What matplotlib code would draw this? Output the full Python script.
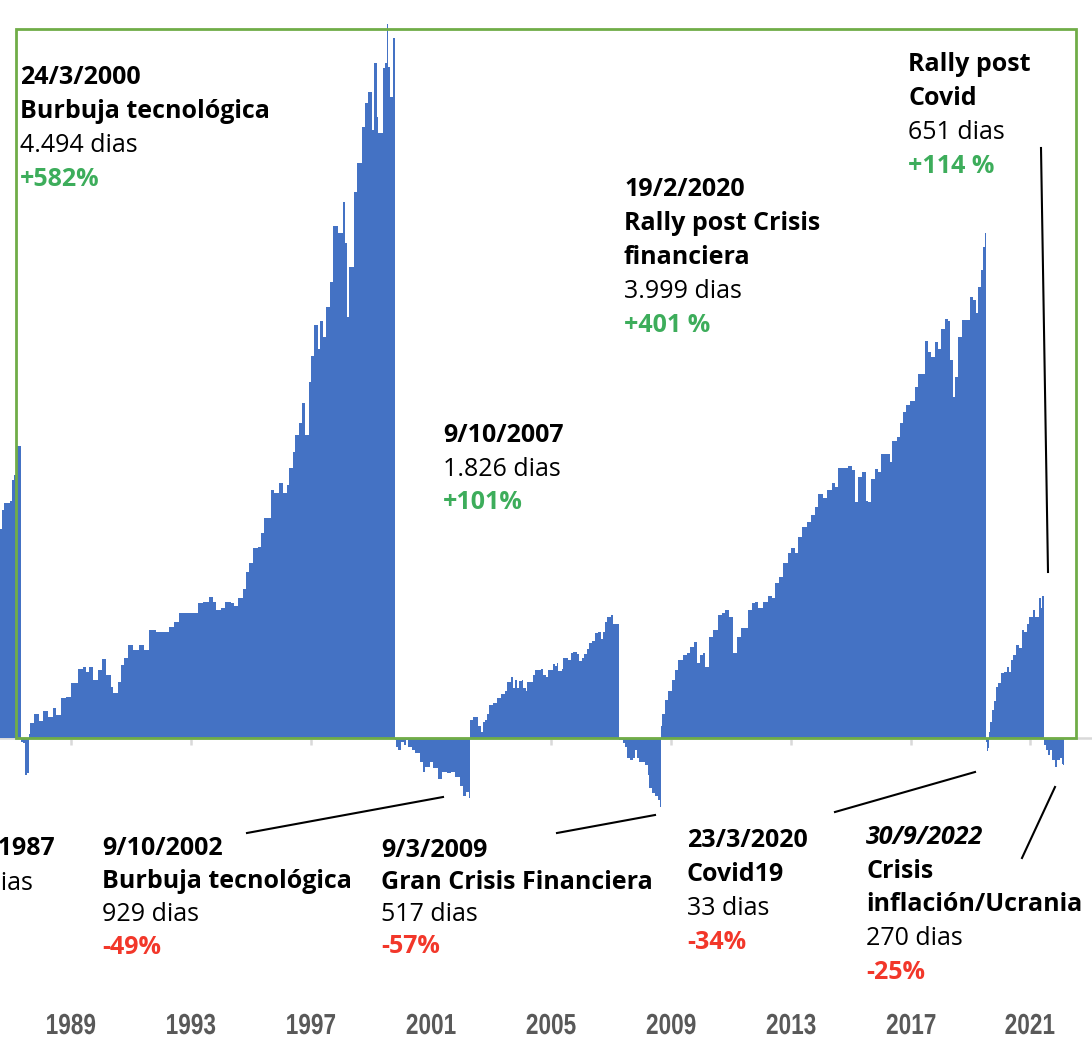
import numpy as np
import matplotlib.pyplot as plt
from matplotlib.patches import Rectangle, PathPatch
from matplotlib.lines import Line2D
from matplotlib.textpath import TextPath
from matplotlib.font_manager import FontProperties
from matplotlib.transforms import Affine2D

# fases del mercado: (fecha decimal, rentabilidad acumulada % desde el inicio de la fase)
alcista_82 = [(1986.95, 172), (1987.01, 187), (1987.08, 193), (1987.18, 193), (1987.28, 195),
              (1987.35, 212), (1987.42, 216), (1987.48, 235), (1987.52, 240), (1987.65, 240)]
bajista_87 = [(1987.65, -3), (1987.72, -4), (1987.79, -30), (1987.85, -29), (1987.92, -33)]
alcista_87 = [(1987.92, 3), (1987.97, 12), (1988.09, 20), (1988.26, 14), (1988.39, 22), (1988.56, 17),
              (1988.73, 25), (1988.83, 19), (1989.00, 33), (1989.17, 34), (1989.34, 45), (1989.57, 57),
              (1989.74, 58), (1989.84, 54), (1989.94, 58), (1990.08, 48), (1990.25, 56), (1990.38, 65),
              (1990.52, 52), (1990.68, 42), (1990.75, 37), (1990.92, 46), (1991.02, 60), (1991.12, 66),
              (1991.26, 76), (1991.42, 72), (1991.63, 76), (1991.79, 72), (1991.96, 89), (1992.20, 87),
              (1992.43, 87), (1992.64, 91), (1992.80, 95), (1992.97, 103), (1993.21, 103), (1993.44, 103),
              (1993.61, 111), (1993.78, 112), (1993.98, 116), (1994.12, 112), (1994.22, 105), (1994.39, 107),
              (1994.52, 112), (1994.72, 111), (1994.82, 108), (1994.96, 115), (1995.13, 122), (1995.23, 136),
              (1995.33, 144), (1995.46, 156), (1995.63, 157), (1995.73, 168), (1995.84, 181), (1996.00, 181),
              (1996.07, 204), (1996.17, 201), (1996.34, 209), (1996.47, 201), (1996.61, 208), (1996.68, 222),
              (1996.81, 235), (1996.88, 249), (1997.01, 259), (1997.11, 275), (1997.22, 249), (1997.35, 292),
              (1997.42, 314), (1997.52, 339), (1997.65, 319), (1997.72, 342), (1997.82, 329), (1997.92, 354),
              (1998.06, 374), (1998.16, 420), (1998.33, 415), (1998.50, 440), (1998.56, 406), (1998.63, 346),
              (1998.70, 387), (1998.87, 448), (1998.97, 472), (1999.13, 502), (1999.24, 521), (1999.34, 530),
              (1999.47, 499), (1999.54, 554), (1999.64, 510), (1999.67, 497), (1999.84, 550), (1999.91, 554),
              (1999.96, 586), (2000.01, 551), (2000.08, 526), (2000.18, 575), (2000.23, 582)]
bajista_00 = [(2000.23, -2), (2000.27, -7), (2000.35, -10), (2000.45, -3), (2000.55, -6), (2000.62, -2),
              (2000.68, -7), (2000.82, -10), (2000.92, -12), (2001.09, -20), (2001.19, -28), (2001.26, -24),
              (2001.42, -20), (2001.53, -25), (2001.69, -34), (2001.83, -28), (2002.00, -29), (2002.13, -28),
              (2002.27, -32), (2002.43, -39), (2002.54, -48), (2002.64, -44), (2002.72, -49), (2002.77, -49)]
alcista_02 = [(2002.77, 15), (2002.87, 17), (2003.01, 17), (2003.04, 10), (2003.14, 5), (2003.21, 13),
              (2003.28, 15), (2003.34, 20), (2003.41, 27), (2003.55, 29), (2003.68, 33), (2003.81, 36),
              (2003.95, 39), (2004.02, 46), (2004.15, 50), (2004.22, 41), (2004.29, 48), (2004.35, 41),
              (2004.42, 47), (2004.52, 48), (2004.56, 41), (2004.66, 39), (2004.69, 46), (2004.79, 46),
              (2004.89, 52), (2004.96, 56), (2005.06, 56), (2005.16, 57), (2005.23, 52), (2005.33, 50),
              (2005.40, 56), (2005.57, 61), (2005.63, 59), (2005.70, 62), (2005.73, 55), (2005.87, 57),
              (2005.90, 66), (2006.00, 66), (2006.07, 64), (2006.17, 70), (2006.24, 71), (2006.37, 69),
              (2006.44, 63), (2006.54, 66), (2006.61, 69), (2006.71, 73), (2006.78, 78), (2006.88, 80),
              (2006.98, 86), (2007.08, 87), (2007.18, 81), (2007.25, 87), (2007.32, 95), (2007.38, 99),
              (2007.52, 101), (2007.59, 94), (2007.65, 94), (2007.72, 94), (2007.77, 94)]
bajista_07 = [(2007.77, -2), (2007.92, -4), (2007.99, -7), (2008.06, -16), (2008.16, -18), (2008.26, -16),
              (2008.33, -10), (2008.39, -16), (2008.46, -20), (2008.56, -20), (2008.66, -22), (2008.76, -30),
              (2008.80, -41), (2008.90, -45), (2009.00, -48), (2009.10, -51), (2009.15, -57), (2009.19, -57)]
alcista_09 = [(2009.19, 10), (2009.24, 20), (2009.34, 31), (2009.44, 39), (2009.57, 48), (2009.67, 56),
              (2009.77, 64), (2009.94, 68), (2010.08, 70), (2010.18, 75), (2010.31, 79), (2010.41, 62),
              (2010.52, 68), (2010.62, 70), (2010.68, 58), (2010.82, 83), (2010.95, 89), (2011.12, 101),
              (2011.26, 103), (2011.36, 105), (2011.49, 99), (2011.59, 99), (2011.63, 70), (2011.76, 83),
              (2011.90, 90), (2012.03, 90), (2012.13, 105), (2012.27, 111), (2012.37, 112), (2012.47, 107),
              (2012.64, 112), (2012.81, 117), (2012.94, 115), (2013.04, 127), (2013.18, 132), (2013.31, 144),
              (2013.48, 152), (2013.58, 156), (2013.71, 152), (2013.81, 165), (2013.95, 173), (2014.12, 177),
              (2014.25, 183), (2014.39, 190), (2014.49, 200), (2014.66, 197), (2014.79, 204), (2014.96, 209),
              (2015.06, 206), (2015.16, 222), (2015.33, 222), (2015.50, 223), (2015.63, 220), (2015.73, 194),
              (2015.84, 214), (2015.97, 218), (2016.10, 195), (2016.17, 194), (2016.27, 213), (2016.41, 221),
              (2016.51, 218), (2016.61, 233), (2016.81, 233), (2016.91, 227), (2016.98, 244), (2017.15, 247),
              (2017.25, 259), (2017.35, 268), (2017.45, 273), (2017.59, 277), (2017.75, 288), (2017.86, 299),
              (2017.99, 299), (2018.09, 326), (2018.19, 317), (2018.29, 313), (2018.43, 325), (2018.53, 319),
              (2018.63, 336), (2018.76, 344), (2018.87, 342), (2018.93, 310), (2019.03, 280), (2019.10, 296),
              (2019.20, 329), (2019.34, 343), (2019.44, 343), (2019.61, 362), (2019.71, 360), (2019.81, 349),
              (2019.88, 370), (2019.98, 384), (2020.04, 403), (2020.10, 415), (2020.14, 415)]
bajista_20 = [(2020.14, -3), (2020.18, -11), (2020.21, -8), (2020.24, -8)]
alcista_20 = [(2020.24, 5), (2020.28, 13), (2020.35, 23), (2020.41, 30), (2020.48, 42), (2020.55, 45),
              (2020.65, 53), (2020.75, 54), (2020.85, 58), (2020.92, 54), (2020.99, 64), (2021.05, 68),
              (2021.16, 76), (2021.26, 74), (2021.36, 89), (2021.42, 87), (2021.53, 94), (2021.59, 99),
              (2021.73, 105), (2021.80, 99), (2021.86, 99), (2021.93, 115), (2022.00, 107), (2022.04, 117),
              (2022.08, 117)]
bajista_22 = [(2022.08, -6), (2022.15, -10), (2022.22, -14), (2022.29, -10), (2022.36, -18), (2022.45, -24),
              (2022.53, -18), (2022.62, -16), (2022.69, -21), (2022.75, -22), (2022.77, -25)]

fases = [alcista_82, bajista_87, alcista_87, bajista_00, alcista_02, bajista_07,
         alcista_09, bajista_20, alcista_20, bajista_22]

anios = [1989, 1993, 1997, 2001, 2005, 2009, 2013, 2017, 2021]
pos_anios = [1989.34, 1993.38, 1997.42, 2001.46, 2005.50, 2009.54, 2013.58, 2017.62, 2021.62]

AZUL = '#4472C4'
VERDE = '#3DAD5B'
ROJO = '#F2372A'
W, H = 1092, 1044

fig = plt.figure(figsize=(W / 100, H / 100), dpi=100)
ax = fig.add_axes([0, 0, 1, 1])
ax.set_xlim(1986.946, 2023.71)
ax.set_ylim(-251.2, 605.9)
ax.axis('off')

for f in fases:
    x, y = zip(*f)
    ax.fill_between(x, y, 0, step='post', color=AZUL, lw=0, zorder=2)

# eje horizontal y marcas
ax.axhline(0, color='#D9D9D9', lw=1.8, zorder=1)
ax.vlines(pos_anios, -6, 0, color='#D9D9D9', lw=1.8, zorder=1)

# etiquetas de los años en letra estrecha (texto comprimido horizontalmente)
fp_eje = FontProperties(family='Liberation Sans', weight='bold')
for p, a in zip(pos_anios, anios):
    tp = TextPath((0, 0), str(a), size=29, prop=fp_eje)
    ext = tp.get_extents()
    xc = ax.transData.transform((p, 0))[0]
    sx = 0.78
    t = Affine2D().scale(sx, 1).translate(xc - sx * (ext.x0 + ext.x1) / 2, H - 1034)
    fig.add_artist(PathPatch(tp, transform=t, color='#595959', lw=0))

# marco verde
ax.add_patch(Rectangle((1987.485, 0), 2023.175 - 1987.485, 582.1, fill=False,
                       ec='#70AD47', lw=2, zorder=3))

FUENTE = ['Open Sans', 'DejaVu Sans']


def bloque(x, y0, lineas, paso=34, ha='left'):
    # lineas: (texto, color, peso, estilo)
    for i, (t, c, w, s) in enumerate(lineas):
        fig.text(x / W, 1 - (y0 + i * paso) / H, t, color=c, fontweight=w, style=s,
                 fontsize=18, ha=ha, va='baseline', family=FUENTE)


N = 'black'
bloque(20, 84, [('24/3/2000', N, 'bold', 'normal'), ('Burbuja tecnológica', N, 'bold', 'normal'),
                ('4.494 dias', N, 'normal', 'normal'), ('+582%', VERDE, 'bold', 'normal')])
bloque(908, 71, [('Rally post', N, 'bold', 'normal'), ('Covid', N, 'bold', 'normal'),
                 ('651 dias', N, 'normal', 'normal'), ('+114 %', VERDE, 'bold', 'normal')])
bloque(624, 196, [('19/2/2020', N, 'bold', 'normal'), ('Rally post Crisis', N, 'bold', 'normal'),
                  ('financiera', N, 'bold', 'normal'), ('3.999 dias', N, 'normal', 'normal'),
                  ('+401 %', VERDE, 'bold', 'normal')])
bloque(443, 442, [('9/10/2007', N, 'bold', 'normal'), ('1.826 dias', N, 'normal', 'normal'),
                  ('+101%', VERDE, 'bold', 'normal')], paso=33.5)
bloque(55, 855, [('4/12/1987', N, 'bold', 'normal')], ha='right')
bloque(33, 890, [('101 dias', N, 'normal', 'normal')], ha='right')
bloque(102, 855, [('9/10/2002', N, 'bold', 'normal'), ('Burbuja tecnológica', N, 'bold', 'normal'),
                  ('929 dias', N, 'normal', 'normal'), ('-49%', ROJO, 'bold', 'normal')], paso=33)
bloque(381, 857, [('9/3/2009', N, 'bold', 'normal'), ('Gran Crisis Financiera', N, 'bold', 'normal'),
                  ('517 dias', N, 'normal', 'normal'), ('-57%', ROJO, 'bold', 'normal')], paso=32)
bloque(687, 847, [('23/3/2020', N, 'bold', 'normal'), ('Covid19', N, 'bold', 'normal'),
                  ('33 dias', N, 'normal', 'normal'), ('-34%', ROJO, 'bold', 'normal')])
bloque(866, 844, [('30/9/2022', N, 'bold', 'italic'), ('Crisis', N, 'bold', 'normal'),
                  ('inflación/Ucrania', N, 'bold', 'normal'), ('270 dias', N, 'normal', 'normal'),
                  ('-25%', ROJO, 'bold', 'normal')], paso=33.7)

# lineas guia
guias = [((247, 833), (443, 797)), ((557, 833), (655, 815)), ((835, 812), (975, 772)),
         ((1022, 858), (1055, 787)), ((1041, 148), (1048, 572))]
for (x1, y1), (x2, y2) in guias:
    fig.add_artist(Line2D([x1 / W, x2 / W], [1 - y1 / H, 1 - y2 / H], color='black', lw=1.5))

fig.savefig('out.png', dpi=100)
